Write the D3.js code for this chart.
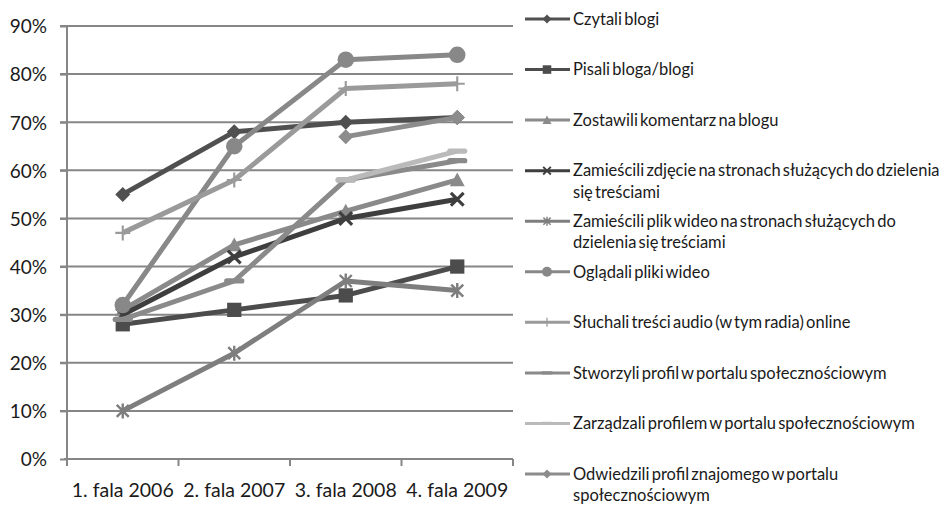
<!DOCTYPE html>
<html><head><meta charset="utf-8">
<script src="https://cdn.jsdelivr.net/npm/d3@7"></script>
<style>html,body{margin:0;padding:0;background:#fff;} svg{display:block;}</style>
</head><body>
<svg id="chart" width="950" height="506"></svg>
<script>
const categories = ["1. fala 2006", "2. fala 2007", "3. fala 2008", "4. fala 2009"];
const yTicks = [0, 10, 20, 30, 40, 50, 60, 70, 80, 90];

const czytali     = [55, 68, 70, 71];
const pisali      = [28, 31, 34, 40];
const zostawili   = [31, 44.5, 51.5, 58];
const zdjecie     = [30, 42, 50, 54];
const plikWideo   = [10, 22, 37, 35];
const ogladali    = [32, 65, 83, 84];
const sluchali    = [47, 58, 77, 78];
const stworzyli   = [29, 37, 58, 62];
const zarzadzali  = [null, null, 58, 64];
const odwiedzili  = [null, null, 67, 71];

const seriesNames = [
  "Czytali blogi",
  "Pisali bloga/blogi",
  "Zostawili komentarz na blogu",
  "Zamieścili zdjęcie na stronach służących do dzielenia\nsię treściami",
  "Zamieścili plik wideo na stronach służących do\ndzielenia się treściami",
  "Oglądali pliki wideo",
  "Słuchali treści audio (w tym radia) online",
  "Stworzyli profil w portalu społecznościowym",
  "Zarządzali profilem w portalu społecznościowym",
  "Odwiedzili profil znajomego w portalu\nspołecznościowym"
];
const seriesValues = [czytali, pisali, zostawili, zdjecie, plikWideo, ogladali, sluchali, stworzyli, zarzadzali, odwiedzili];
const seriesColors = ["#505050", "#4c4c4c", "#8a8a8a", "#3e3e3e", "#7e7e7e", "#888888", "#9a9a9a", "#8a8a8a", "#bababa", "#8c8c8c"];
const seriesMarkers = ["diamond", "square", "triangle", "x", "asterisk", "circle", "plus", "dash", "dash", "diamond"];

const series = seriesNames.map((name, i) => ({
  name, values: seriesValues[i], color: seriesColors[i], marker: seriesMarkers[i]
}));

const svg = d3.select("#chart");
const FONT = "Lato, 'Open Sans', sans-serif";
const plot = {left: 67, right: 513, top: 26, bottom: 459};

const x = d3.scalePoint().domain(categories).range([plot.left, plot.right]).padding(0.5);
const y = d3.scaleLinear().domain([0, 90]).range([plot.bottom, plot.top]);

const gridColor = "#868686";

// gridlines
svg.append("g").selectAll("line").data(yTicks.filter(t => t > 0)).join("line")
  .attr("x1", plot.left - 7).attr("x2", plot.right)
  .attr("y1", d => y(d)).attr("y2", d => y(d))
  .attr("stroke", gridColor).attr("stroke-width", 2);

// y axis
const yAxis = d3.axisLeft(y).tickValues(yTicks).tickFormat(d => d + "%").tickSize(7).tickPadding(13);
const gy = svg.append("g").attr("transform", `translate(${plot.left},0)`).call(yAxis);
gy.select(".domain").attr("stroke", gridColor).attr("stroke-width", 2).attr("d", `M0,${plot.top}V${plot.bottom + 1}`);
gy.selectAll(".tick line").attr("stroke", gridColor).attr("stroke-width", 2);
gy.selectAll(".tick text").attr("font-family", FONT).attr("font-size", 19).attr("fill", "#1a1a1a").attr("dy", "0.36em");

// x axis
const xBand = d3.scaleBand().domain(categories).range([plot.left, plot.right]);
const gx = svg.append("g").attr("transform", `translate(0,${plot.bottom})`);
gx.append("line").attr("x1", plot.left - 3).attr("x2", plot.right).attr("y1", 0).attr("y2", 0)
  .attr("stroke", gridColor).attr("stroke-width", 2);
const boundaries = categories.map(c => xBand(c)).concat([xBand(categories[categories.length - 1]) + xBand.bandwidth()]);
gx.selectAll("line.tk").data(boundaries).join("line").attr("class", "tk")
  .attr("x1", d => d).attr("x2", d => d).attr("y1", 0).attr("y2", 7)
  .attr("stroke", gridColor).attr("stroke-width", 2);
gx.selectAll("text").data(categories).join("text")
  .attr("x", d => x(d)).attr("y", 38).attr("text-anchor", "middle")
  .attr("font-family", FONT).attr("font-size", 19.5).attr("fill", "#1a1a1a").text(d => d);

// markers
function drawMarker(g, type, color, s) {
  if (type === "diamond") {
    g.append("path").attr("d", `M0,${-s}L${s},0L0,${s}L${-s},0Z`).attr("fill", color);
  } else if (type === "square") {
    g.append("rect").attr("x", -s * 0.95).attr("y", -s * 0.95).attr("width", s * 1.9).attr("height", s * 1.9).attr("fill", color);
  } else if (type === "triangle") {
    g.append("path").attr("d", `M0,${-s}L${s},${s * 0.85}L${-s},${s * 0.85}Z`).attr("fill", color);
  } else if (type === "circle") {
    g.append("circle").attr("r", s * 1.1).attr("fill", color);
  } else if (type === "x") {
    const k = s * 0.85;
    g.append("path").attr("d", `M${-k},${-k}L${k},${k}M${-k},${k}L${k},${-k}`).attr("stroke", color).attr("stroke-width", s * 0.42);
  } else if (type === "asterisk") {
    const k = s * 0.8;
    g.append("path").attr("d", `M${-k},${-k}L${k},${k}M${-k},${k}L${k},${-k}M0,${-s}L0,${s}`).attr("stroke", color).attr("stroke-width", s * 0.32);
  } else if (type === "plus") {
    g.append("path").attr("d", `M0,${-s}L0,${s}M${-s},0L${s},0`).attr("stroke", color).attr("stroke-width", s * 0.28);
  } else if (type === "dash") {
    g.append("path").attr("d", `M${-s},0L${s},0`).attr("stroke", color).attr("stroke-width", s * 0.7).attr("stroke-linecap", "round");
  }
}

const line = d3.line()
  .defined(d => d.v !== null)
  .x(d => x(d.c)).y(d => y(d.v));

const gSeries = svg.append("g");
series.forEach(s => {
  const pts = categories.map((c, i) => ({c, v: s.values[i]}));
  const g = gSeries.append("g");
  g.append("path").datum(pts).attr("d", line).attr("fill", "none")
    .attr("stroke", s.color).attr("stroke-width", 5).attr("stroke-linejoin", "round");
  pts.filter(p => p.v !== null).forEach(p => {
    const mg = g.append("g").attr("transform", `translate(${x(p.c)},${y(p.v)})`);
    drawMarker(mg, s.marker, s.color, 7.5);
  });
});

// legend
const ly = d3.scalePoint().domain(seriesNames).range([19, 474]);
const legend = svg.append("g");
series.forEach(s => {
  const g = legend.append("g").attr("transform", `translate(0,${ly(s.name)})`);
  g.append("line").attr("x1", 525).attr("x2", 570).attr("y1", 0).attr("y2", 0)
    .attr("stroke", s.color).attr("stroke-width", 3);
  const mg = g.append("g").attr("transform", "translate(547,0)");
  drawMarker(mg, s.marker, s.color, 4.5);
  const t = g.append("text").attr("x", 573).attr("y", 0)
    .attr("font-family", FONT).attr("font-size", 16.5).attr("word-spacing", -2).attr("fill", "#1a1a1a");
  s.name.split("\n").forEach((ln, j) => {
    t.append("tspan").attr("x", 573).attr("dy", j === 0 ? "0.35em" : "1.3em").text(ln);
  });
});
</script>
</body></html>
